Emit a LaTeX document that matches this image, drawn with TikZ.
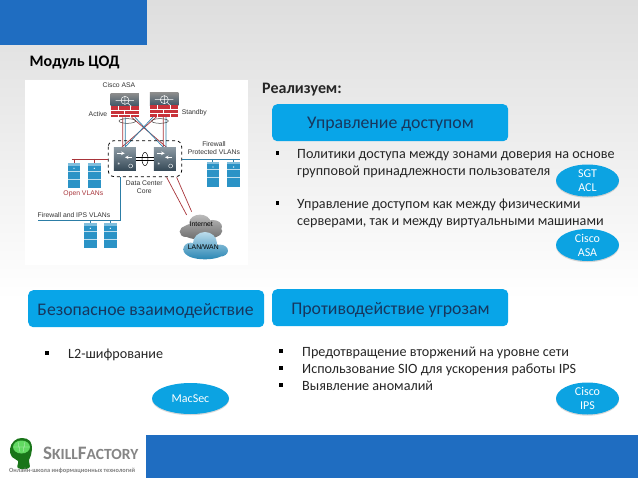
\documentclass[tikz,border=0pt]{standalone}
\usepackage{fontspec}
\setmainfont{Carlito}
\newfontfamily\labelfont{Liberation Sans}
\usetikzlibrary{shapes.geometric,calc,shadows}
\definecolor{bar}{HTML}{1F6DC1}
\definecolor{head}{HTML}{08A5E8}
\definecolor{oval}{HTML}{0CA3E2}
\definecolor{headtext}{HTML}{17375E}
\definecolor{netred}{HTML}{A8343A}
\definecolor{firered}{HTML}{C8323A}
\definecolor{netblue}{HTML}{2C7DA6}
\definecolor{srv}{HTML}{2B93C6}
\definecolor{slate}{HTML}{3F5666}
\tikzset{
 headbox/.style={fill=head,rounded corners=5pt,inner sep=0pt,minimum height=37pt,minimum width=236pt},
 headtxt/.style={text=headtext,font=\fontsize{17.8}{20}\selectfont,inner sep=0pt},
 ovalbox/.style={ellipse,fill=oval,text=white,font=\fontsize{12}{14}\selectfont,align=center,inner sep=0pt,minimum width=63pt,minimum height=32pt,drop shadow={opacity=.3,shadow xshift=0pt,shadow yshift=-1.2pt}},
 body/.style={anchor=base west,inner sep=0pt,font=\fontsize{14.15}{16}\selectfont,text=black!85},
 bul/.style={anchor=center,inner sep=0pt,fill=black,minimum size=3.8pt},
 nl/.style={inner sep=0pt,font=\labelfont\fontsize{6.8}{8}\selectfont,text=black!80,align=center},
 rl/.style={netred,line width=.7pt},
 bl/.style={netblue,line width=.7pt},
 bt/.style={white,line width=.45pt}
}
\begin{document}
\begin{tikzpicture}[x=1pt,y=-1pt]
\useasboundingbox (0,0) rectangle (638,479);
\shade[top color=black!13,bottom color=white] (0,0) rectangle (638,300);
\fill[white] (0,300) rectangle (638,479);
\fill[bar] (0,0) rectangle (146.5,44.5);
\fill[bar] (146,435) rectangle (638,478);
\node[anchor=base west,inner sep=0pt,font=\fontsize{16}{18}\selectfont\bfseries] (title) at (29.5,66) {Модуль ЦОД};
\node[anchor=base west,inner sep=0pt,font=\fontsize{16}{18}\selectfont\bfseries,text=black!85] (real) at (262,93) {Реализуем:};
% network picture
\fill[white] (25,80) rectangle (248,265);
\begin{scope}[shift={(20,70)},x=.3333pt,y=-.3333pt]
 % links under the firewalls
 \draw[rl] (308,142) -- (308,232) (430,140) -- (430,232) (335,142) -- (440,232) (410,140) -- (305,232);
 \draw[bl] (316,142) -- (316,232) (438,140) -- (438,232) (345,142) -- (430,232) (400,140) -- (315,232);
 \draw[black!75,line width=.5pt] (322,153) ellipse (25 and 7) (420,153) ellipse (25 and 7);
 % firewalls
 \foreach \x/\y in {272/70,390/68}{
  \shade[top color=black!45,bottom color=slate] (\x,\y) rectangle ++(85,38);
  \fill[firered] (\x,\y+38) rectangle ++(85,34);
  \draw[bt] (\x,\y+50) -- ++(85,0) (\x,\y+62) -- ++(85,0)
   (\x+22,\y+38) -- ++(0,12) (\x+60,\y+38) -- ++(0,12) (\x+40,\y+50) -- ++(0,12) (\x+22,\y+62) -- ++(0,10) (\x+60,\y+62) -- ++(0,10);
  \draw[white,line width=.5pt] (\x+43,\y+21) circle (12);
  \draw[white,line width=.5pt] (\x+15,\y+21) -- ++(55,0) (\x+43,\y+8) -- ++(0,26) (\x+52,\y+30) -- ++(10,9);
 }
 % switches
 \foreach \x in {282,402}{
  \shade[top color=slate!60,bottom color=slate!85!black] (\x,232) rectangle ++(66,70);
  \draw[white,line width=.6pt,-stealth] (\x+10,250) -- ++(22,0);
  \draw[white,line width=.6pt,-stealth] (\x+55,262) -- ++(-22,0);
  \node[inner sep=0pt,text=white,font=\fontsize{8}{8}\selectfont] at (\x+15,288) {*};
  \draw[white,line width=.4pt] (\x+50,288) circle (6);
 }
 \draw[black,line width=.8pt] (348,262) -- (402,262) (348,272) -- (402,272);
 \draw[black,line width=.5pt] (375,267) ellipse (9 and 20);
 \draw[black,dashed,line width=.8pt,rounded corners=6pt] (265,212) rectangle (485,320);
 % VLAN lines
 \draw[rl] (155,267) -- (265,267) (162,267) -- (162,280) (222,267) -- (222,280);
 \draw[bl] (485,267) -- (660,267) (578,267) -- (578,276) (640,267) -- (640,276);
 \draw[bl] (55,451) -- (300,451) -- (300,320) (210,451) -- (210,460) (270,451) -- (270,460);
 \draw[rl] (440,322) -- (500,435) (470,322) -- (515,425);
 % servers
 \foreach \x/\y in {143/280,204/280,560/276,622/276,192/460,252/460}{
  \fill[srv] (\x,\y) rectangle ++(38,74);
  \fill[srv!60!white] (\x,\y) rectangle ++(38,7);
  \fill[white!70!srv] (\x,\y+22) rectangle ++(38,2);
  \fill[white!70!srv] (\x,\y+46) rectangle ++(38,2);
  \fill[white] (\x+19,\y+15) circle (2);
 }
 % clouds
 \begin{scope}
  \clip (545,483) ellipse (62 and 26) (540,458) ellipse (32 and 24) (578,470) ellipse (28 and 20) (497,485) ellipse (18 and 16);
  \shade[top color=black!25,bottom color=black!60] (470,430) rectangle (620,515);
 \end{scope}
 \begin{scope}
  \clip (555,520) ellipse (36 and 34) (512,538) ellipse (22 and 20) (600,542) ellipse (24 and 18) (555,548) ellipse (58 and 20);
  \shade[top color=srv!30!white,bottom color=srv!90!black] (485,484) rectangle (625,570);
 \end{scope}
 \node[nl,text=black] (inet) at (544,464) {Internet};
 \node[nl,text=black] (lan) at (550,532) {LAN/WAN};
 \node[nl] (asa) at (297,46) {Cisco ASA};
 \node[nl] (act) at (234,132) {Active};
 \node[nl] (stb) at (523,128) {Standby};
 \node[nl] (fw) at (582,235) {Firewall\\Protected VLANs};
 \node[nl] (core) at (373,351) {Data Center\\Core};
 \node[nl,text=netred] (open) at (190,373) {Open VLANs};
 \node[nl] (ips) at (162,435) {Firewall and IPS VLANs};
\end{scope}
% headers
\node[headbox,anchor=north west] (h1) at (272,104) {};
\node[headtxt] (h1t) at (390.5,124) {Управление доступом};
\node[headbox,anchor=north west] (h2) at (28,290) {};
\node[headtxt,font=\fontsize{17.7}{20}\selectfont] (h2t) at (145.5,310.5) {Безопасное взаимодействие};
\node[headbox,anchor=north west] (h3) at (272,289) {};
\node[headtxt] (h3t) at (390.5,309.5) {Противодействие угрозам};
% bodies
\node[bul] (b1) at (277.5,153) {};
\node[body] (t1) at (297,158) {Политики доступа между зонами доверия на основе};
\node[body] (t1b) at (297,175) {групповой принадлежности пользователя};
\node[bul] (b2) at (277.5,203) {};
\node[body] (t2) at (297,208) {Управление доступом как между физическими};
\node[body] (t2b) at (297,225) {серверами, так и между виртуальными машинами};
\node[bul] (b3) at (47,353) {};
\node[body] (t3) at (68,358) {L2-шифрование};
\node[bul] (b4) at (281,351) {};
\node[body] (t4) at (302,356) {Предотвращение вторжений на уровне сети};
\node[bul] (b5) at (281,368) {};
\node[body] (t5) at (302,373) {Использование SIO для ускорения работы IPS};
\node[bul] (b6) at (281,385) {};
\node[body] (t6) at (302,390) {Выявление аномалий};
% ovals
\node[ovalbox] (sgt) at (587.5,180.5) {SGT\\ACL};
\node[ovalbox] (casa) at (587.5,245) {Cisco\\ASA};
\node[ovalbox,minimum width=77pt,minimum height=31pt] (mac) at (190.5,398.5) {MacSec};
\node[ovalbox] (cips) at (587.5,398.5) {Cisco\\IPS};
% logo
\fill[green!40!black!90] plot[smooth cycle,tension=.7] coordinates {(10,449) (14,441) (22,438) (30,441) (32,449) (31,455) (29,460) (29,468) (18,468) (18,461) (12,457)};
\fill[green!55!white!85!black] (21.5,447) ellipse (8.5 and 6.5);
\draw[white,line width=.25pt,opacity=.7] (14,447) -- (29,447) (18,442) -- (20,452) (25,442) -- (23,452);
\node[anchor=base west,inner sep=0pt,font=\bfseries,text=black!48] (sf) at (43,459) {\fontsize{19}{20}\selectfont S\fontsize{15.5}{20}\selectfont KILL\fontsize{19}{20}\selectfont F\fontsize{15.5}{20}\selectfont ACTORY};
\node[anchor=base west,inner sep=0pt,font=\fontsize{6.35}{8}\selectfont\bfseries,text=black!50] (sub) at (9,472) {Онлайн-школа информационных технологий};
\end{tikzpicture}
\end{document}
